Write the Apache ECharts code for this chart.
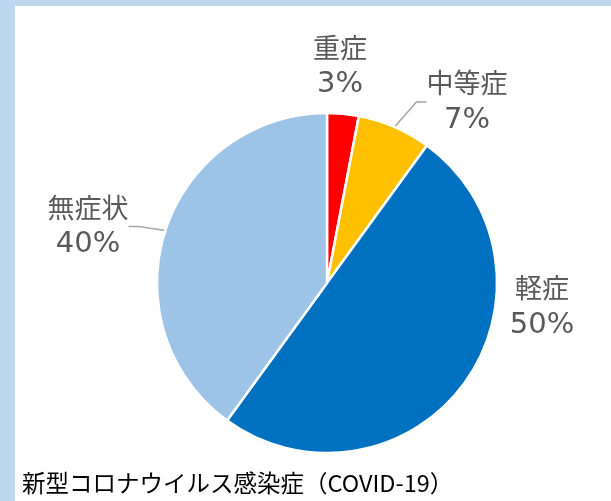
<!DOCTYPE html>
<html><head><meta charset="utf-8">
<script src="https://cdn.jsdelivr.net/npm/echarts@6/dist/echarts.min.js"></script>
<style>html,body{margin:0;padding:0;background:#BDD7EE;}#c{width:611px;height:501px;}</style>
</head><body><div id="c"></div>
<script>
const categories = ['重症', '中等症', '軽症', '無症状'];
const values = [3, 7, 50, 40];
const colors = ['#FF0000', '#FFC000', '#0070C0', '#9DC3E6'];
const showLine = [false, true, false, true];
const labelPos = [[340, 66], [467, 93.5], [542, 306.5], [88, 218]];
const title = '新型コロナウイルス感染症（COVID-19）';

const chart = echarts.init(document.getElementById('c'));
const font = '"Noto Sans CJK JP", "Noto Sans", sans-serif';
const numFont = '"DejaVu Sans", sans-serif';
chart.setOption({
  backgroundColor: '#BDD7EE',
  animation: false,
  graphic: [{type: 'rect', shape: {x: 15, y: 6, width: 600, height: 500}, style: {fill: '#FFFFFF'}, z: -10}],
  title: {text: title, left: 17, top: 466, textStyle: {fontFamily: font, fontSize: 23.5, fontWeight: 'normal', color: '#000000'}},
  series: [{
    type: 'pie',
    center: [327, 283],
    radius: 170,
    startAngle: 90,
    clockwise: true,
    itemStyle: {borderColor: '#FFFFFF', borderWidth: 2.5},
    label: {
      show: true, position: 'outside',
      formatter: '{n|{b}}\n{v|{c}%}',
      color: '#595959', align: 'center',
      rich: {
        n: {fontFamily: font, fontSize: 27, lineHeight: 37, color: '#595959'},
        v: {fontFamily: numFont, fontSize: 29, fontWeight: 'normal', lineHeight: 37, color: '#595959'}
      }
    },
    labelLine: {lineStyle: {color: '#A6A6A6', width: 1.5}, length: 15, length2: 10},
    labelLayout: function (p) {
      const pos = labelPos[p.dataIndex];
      return {x: pos[0], y: pos[1], align: 'center', verticalAlign: 'middle'};
    },
    data: categories.map((n, i) => ({
      name: n, value: values[i], itemStyle: {color: colors[i]},
      labelLine: {show: showLine[i]},
      label: {padding: showLine[i] ? [16, 0, 0, 0] : 0}
    }))
  }]
});
</script></body></html>
